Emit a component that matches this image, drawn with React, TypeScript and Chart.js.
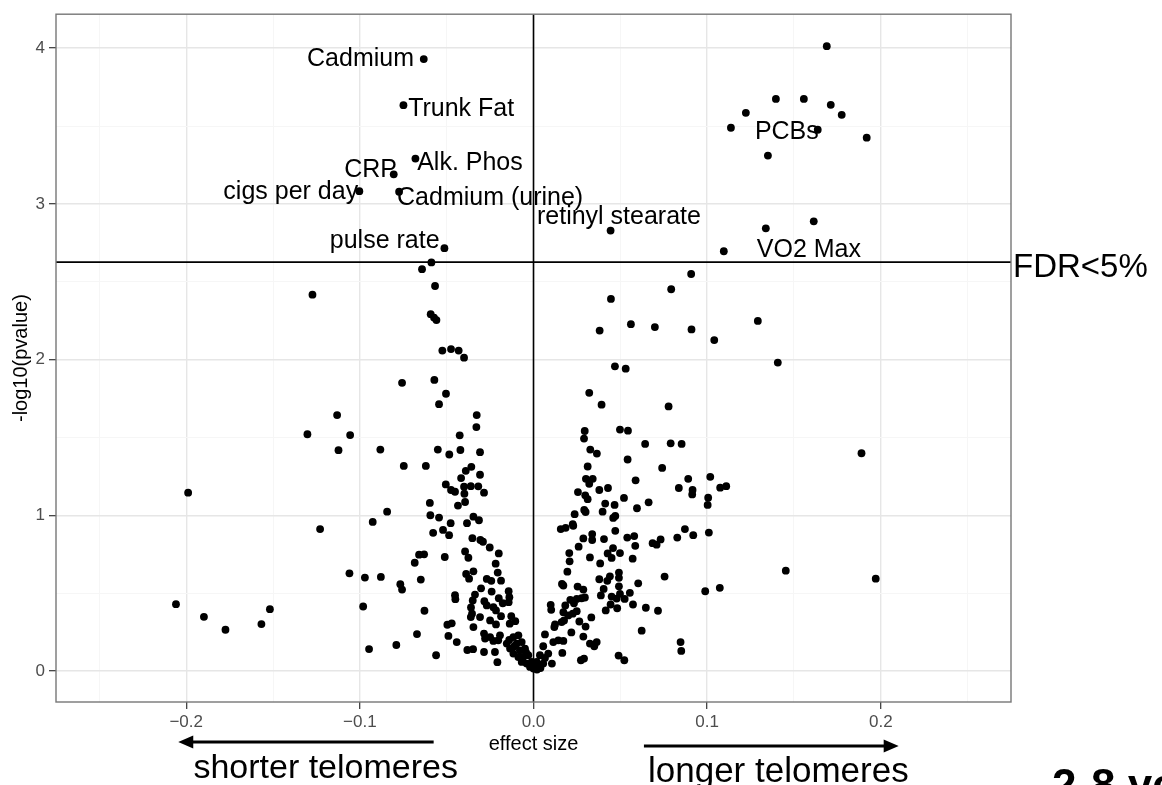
import React, { useEffect, useRef } from "react";
import { Chart, registerables } from "chart.js";

Chart.register(...registerables);

// ---------- data (effect size, -log10 p-value) ----------
// exposures passing FDR < 5%
const sigEffect = [
  -0.0632, -0.0749, -0.068, -0.0805, -0.1003, -0.0774, -0.0513, 0.0444,
  0.1689, 0.1396, 0.1557, 0.1223, 0.1712, 0.1775, 0.1137, 0.1637, 0.1919, 0.135,
  0.1338, 0.1614, 0.1096,
];
const sigNegLogP = [
  3.93, 3.634, 3.291, 3.19, 3.082, 3.078, 2.716, 2.829,
  4.013, 3.674, 3.674, 3.585, 3.636, 3.572, 3.489, 3.476, 3.425, 3.31,
  2.843, 2.888, 2.696,
];

// negative associations (shorter telomeres)
const negEffect = [
  -0.0588, -0.0642, -0.0567, -0.1273, -0.0592, -0.0573, -0.0559, -0.0525, -0.0475, -0.0431,
  -0.04, -0.0757, -0.0571, -0.0504, -0.0544, -0.1131, -0.0327, -0.0329, -0.1302, -0.1056,
  -0.0425, -0.1123, -0.0882, -0.0551, -0.0485, -0.0421, -0.0308, -0.0747, -0.062, -0.0358,
  -0.039, -0.0308, -0.0417, -0.0505, -0.0475, -0.0452, -0.04, -0.0361, -0.0318, -0.0398,
  -0.0285, -0.0597, -0.0394, -0.0435, -0.0843, -0.0926, -0.1229, -0.0594, -0.0544, -0.0477,
  -0.0346, -0.0314, -0.0383, -0.0578, -0.0521, -0.0486, -0.0352, -0.0306, -0.0291, -0.0252,
  -0.02, -0.0394, -0.0375, -0.0659, -0.063, -0.0684, -0.0511, -0.0218, -0.0206, -0.0187,
  -0.0388, -0.0346, -0.0371, -0.106, -0.0971, -0.0879, -0.0767, -0.0757, -0.0649, -0.0269,
  -0.0243, -0.0302, -0.0337, -0.035, -0.0452, -0.045, -0.0241, -0.02, -0.0143, -0.0139,
  -0.0143, -0.0177, -0.0283, -0.0269, -0.0231, -0.0216, -0.0187, -0.036, -0.0354, -0.0361,
  -0.0308, -0.0981, -0.0628, -0.025, -0.0216, -0.0128, -0.0105, -0.0137, -0.0346, -0.0496,
  -0.0471, -0.0671, -0.049, -0.0442, -0.0285, -0.0279, -0.025, -0.0231, -0.0193, -0.0203,
  -0.079, -0.0947, -0.0561, -0.0381, -0.0348, -0.0285, -0.0222, -0.0208,
  -0.0154, -0.0116, -0.0087, -0.0135, -0.0097, -0.0068, -0.0116, -0.0078, -0.0049, -0.0087,
  -0.0059, -0.003, -0.0068, -0.0039, -0.002, 0.0, -0.001, -0.0043, -0.014, -0.011,
  -0.1989, -0.2059, -0.1898, -0.1774, -0.1567, -0.1518,
];
const negNegLogP = [
  2.624, 2.581, 2.473, 2.417, 2.292, 2.27, 2.254, 2.058, 2.068, 2.058,
  2.013, 1.851, 1.87, 1.781, 1.714, 1.644, 1.644, 1.567, 1.521, 1.516,
  1.514, 1.419, 1.423, 1.423, 1.391, 1.42, 1.406, 1.318, 1.318, 1.312,
  1.286, 1.261, 1.24, 1.199, 1.163, 1.152, 1.184, 1.188, 1.187, 1.139,
  1.146, 1.08, 1.086, 1.063, 1.024, 0.958, 0.912, 1.001, 0.986, 0.95,
  0.992, 0.969, 0.95, 0.888, 0.907, 0.873, 0.854, 0.842, 0.831, 0.794,
  0.756, 0.769, 0.728, 0.748, 0.75, 0.696, 0.733, 0.69, 0.633, 0.581,
  0.624, 0.641, 0.594, 0.628, 0.601, 0.605, 0.558, 0.524, 0.588, 0.592,
  0.58, 0.532, 0.492, 0.454, 0.488, 0.462, 0.511, 0.468, 0.513, 0.475,
  0.443, 0.436, 0.449, 0.422, 0.411, 0.39, 0.353, 0.409, 0.369, 0.347,
  0.347, 0.415, 0.388, 0.326, 0.3, 0.353, 0.321, 0.305, 0.283, 0.298,
  0.307, 0.238, 0.226, 0.187, 0.241, 0.209, 0.219, 0.194, 0.23, 0.198,
  0.168, 0.142, 0.102, 0.136, 0.141, 0.123, 0.123, 0.058,
  0.177, 0.219, 0.23, 0.145, 0.177, 0.187, 0.113, 0.134, 0.145, 0.091,
  0.091, 0.102, 0.059, 0.049, 0.027, 0.017, 0.059, 0.12, 0.2, 0.16,
  1.146, 0.43, 0.349, 0.266, 0.302, 0.398,
];

// positive associations (longer telomeres)
const posEffect = [
  0.0908, 0.0793, 0.0446, 0.0381, 0.0561, 0.0699, 0.091, 0.1041, 0.1292, 0.1407,
  0.0469, 0.0531, 0.0321, 0.0392, 0.0778, 0.0295, 0.0291, 0.0498, 0.0544, 0.0327,
  0.0365, 0.0643, 0.079, 0.0853, 0.0542, 0.0312, 0.0741, 0.0302, 0.0341, 0.0588,
  0.0891, 0.1018, 0.0321, 0.0837, 0.0916, 0.0914, 0.1006, 0.1003, 0.1075, 0.111,
  0.0256, 0.0298, 0.0312, 0.0379, 0.0429, 0.0413, 0.0467, 0.0521, 0.0663, 0.0596,
  0.0237, 0.0292, 0.03, 0.0398, 0.0459, 0.0471, 0.0157, 0.0185, 0.0226, 0.0229,
  0.0471, 0.0338, 0.0338, 0.0287, 0.0406, 0.054, 0.058, 0.0586, 0.0686, 0.0709,
  0.0732, 0.0828, 0.0872, 0.092, 0.101, 0.026, 0.0206, 0.0208, 0.0325, 0.0427,
  0.045, 0.0458, 0.0498, 0.0571, 0.0384, 0.0195, 0.1453, 0.0755, 0.0164, 0.0172,
  0.0254, 0.0287, 0.0379, 0.0425, 0.044, 0.0492, 0.0492, 0.0492, 0.0603, 0.0404,
  0.0388, 0.045, 0.0479, 0.0498, 0.0525, 0.0555, 0.0989, 0.1073, 0.0099, 0.0102,
  0.0183, 0.0212, 0.0233, 0.0249, 0.0277, 0.0296, 0.0172, 0.02, 0.0226, 0.0249,
  0.0444, 0.0482, 0.0416, 0.0573, 0.0647, 0.0717, 0.0124, 0.012, 0.0162, 0.0176,
  0.0264, 0.0333, 0.03, 0.0066, 0.0218, 0.0623, 0.0287, 0.0114, 0.0143, 0.0172,
  0.0325, 0.0364, 0.035, 0.0056, 0.0166, 0.0847, 0.0851, 0.0273, 0.0291, 0.049,
  0.0523, 0.0106, 0.0037, 0.0066, 0.0085, 0.0018, 0.0, 0.0028, 0.0056, 0.002,
  0.004, 0.1889, 0.1971,
];
const posNegLogP = [
  2.55, 2.452, 2.39, 2.187, 2.228, 2.209, 2.194, 2.126, 2.249, 1.981,
  1.957, 1.942, 1.787, 1.711, 1.7, 1.542, 1.493, 1.551, 1.544, 1.423,
  1.397, 1.459, 1.463, 1.459, 1.359, 1.314, 1.305, 1.235, 1.235, 1.225,
  1.235, 1.248, 1.203, 1.176, 1.163, 1.135, 1.114, 1.067, 1.178, 1.188,
  1.15, 1.129, 1.104, 1.163, 1.176, 1.076, 1.067, 1.112, 1.084, 1.046,
  1.008, 1.035, 1.022, 1.024, 0.984, 0.997, 0.912, 0.92, 0.944, 0.933,
  0.901, 0.88, 0.842, 0.852, 0.848, 0.858, 0.867, 0.805, 0.822, 0.812,
  0.846, 0.858, 0.912, 0.873, 0.89, 0.799, 0.758, 0.705, 0.73, 0.756,
  0.727, 0.79, 0.758, 0.722, 0.692, 0.639, 0.645, 0.607, 0.56, 0.55,
  0.543, 0.524, 0.59, 0.58, 0.609, 0.633, 0.599, 0.545, 0.564, 0.528,
  0.486, 0.479, 0.466, 0.496, 0.464, 0.503, 0.513, 0.535, 0.426, 0.394,
  0.422, 0.458, 0.436, 0.464, 0.468, 0.473, 0.379, 0.358, 0.369, 0.385,
  0.428, 0.404, 0.39, 0.428, 0.407, 0.388, 0.3, 0.283, 0.315, 0.326,
  0.319, 0.345, 0.286, 0.236, 0.249, 0.26, 0.222, 0.187, 0.198, 0.194,
  0.177, 0.187, 0.16, 0.16, 0.117, 0.187, 0.13, 0.07, 0.081, 0.1,
  0.07, 0.049, 0.102, 0.085, 0.113, 0.059, 0.027, 0.038, 0.049, 0.01,
  0.02, 1.399, 0.594,
];

// labelled exposures: text, anchor (effect size, -log10 p), alignment
const labelText = [
  "Cadmium", "Trunk Fat", "Alk. Phos", "CRP", "cigs per day",
  "Cadmium (urine)", "retinyl stearate", "pulse rate", "PCBs", "VO2 Max",
];
const labelX = [-0.0688, -0.0722, -0.067, -0.0786, -0.101, -0.0786, 0.002, -0.0541, 0.1275, 0.1286];
const labelY = [3.942, 3.62, 3.278, 3.231, 3.086, 3.051, 2.93, 2.776, 3.473, 2.717];
const labelAlign = ["right", "left", "left", "right", "right", "left", "left", "right", "left", "left"];

const fdrThreshold = 2.626;
const xTicks = [-0.25, -0.2, -0.15, -0.1, -0.05, 0, 0.05, 0.1, 0.15, 0.2, 0.25];
const yTicks = [0, 0.5, 1, 1.5, 2, 2.5, 3, 3.5, 4];
const xRange = [-0.275, 0.275];
const yRange = [-0.198, 4.218];

const FONT = '"Liberation Sans", Arial, Helvetica, sans-serif';

const isMajorX = (v: number) => Math.abs(v * 10 - Math.round(v * 10)) < 1e-6;
const isMajorY = (v: number) => Math.abs(v - Math.round(v)) < 1e-6;

const annotationPlugin = {
  id: "volcanoAnnotations",
  beforeDatasetsDraw(chart: any) {
    const { ctx, chartArea, scales } = chart;
    const x0 = scales.x.getPixelForValue(0);
    const yT = scales.y.getPixelForValue(fdrThreshold);
    ctx.save();
    ctx.strokeStyle = "#000";
    ctx.lineWidth = 1.6;
    ctx.beginPath();
    ctx.moveTo(x0, chartArea.top);
    ctx.lineTo(x0, chartArea.bottom);
    ctx.moveTo(chartArea.left, yT);
    ctx.lineTo(chartArea.right, yT);
    ctx.stroke();
    ctx.restore();
  },
  afterDraw(chart: any) {
    const { ctx, chartArea, scales } = chart;
    const xs = scales.x;
    const ys = scales.y;
    ctx.save();
    // panel border
    ctx.strokeStyle = "#777777";
    ctx.lineWidth = 1.4;
    ctx.strokeRect(chartArea.left, chartArea.top, chartArea.right - chartArea.left, chartArea.bottom - chartArea.top);

    // point labels
    ctx.fillStyle = "#000";
    ctx.font = `25px ${FONT}`;
    ctx.textBaseline = "alphabetic";
    for (let i = 0; i < labelText.length; i++) {
      ctx.textAlign = labelAlign[i] as CanvasTextAlign;
      ctx.fillText(labelText[i], xs.getPixelForValue(labelX[i]), ys.getPixelForValue(labelY[i]) + 0.358 * 25);
    }

    // FDR label
    const yT = ys.getPixelForValue(fdrThreshold);
    ctx.textAlign = "left";
    ctx.font = `33px ${FONT}`;
    ctx.fillText("FDR<5%", chartArea.right + 2, yT + 15);

    // axis titles
    ctx.font = `20px ${FONT}`;
    ctx.textAlign = "center";
    ctx.fillText("effect size", (chartArea.left + chartArea.right) / 2, chartArea.bottom + 48);
    ctx.save();
    ctx.translate(27, (chartArea.top + chartArea.bottom) / 2);
    ctx.rotate(-Math.PI / 2);
    ctx.fillText("-log10(pvalue)", 0, 0);
    ctx.restore();

    // direction arrows
    const drawArrow = (fromV: number, toV: number, y: number) => {
      const x1 = xs.getPixelForValue(fromV);
      const x2 = xs.getPixelForValue(toV);
      const dir = Math.sign(x2 - x1);
      ctx.strokeStyle = "#000";
      ctx.lineWidth = 3;
      ctx.beginPath();
      ctx.moveTo(x1, y);
      ctx.lineTo(x2 - dir * 12, y);
      ctx.stroke();
      ctx.beginPath();
      ctx.moveTo(x2, y);
      ctx.lineTo(x2 - dir * 15, y - 6.5);
      ctx.lineTo(x2 - dir * 15, y + 6.5);
      ctx.closePath();
      ctx.fill();
    };
    drawArrow(-0.0575, -0.2046, chartArea.bottom + 40);
    drawArrow(0.0636, 0.2103, chartArea.bottom + 44);

    ctx.font = `34px ${FONT}`;
    ctx.textAlign = "center";
    ctx.fillText("shorter telomeres", xs.getPixelForValue(-0.1197), chartArea.bottom + 76);
    ctx.font = `35px ${FONT}`;
    ctx.fillText("longer telomeres", xs.getPixelForValue(0.141), chartArea.bottom + 80);

    ctx.font = `bold 44px ${FONT}`;
    ctx.textAlign = "left";
    ctx.fillText("2-8 years", chartArea.right + 41, chartArea.bottom + 98);
    ctx.restore();
  },
};

export default function App() {
  const canvasRef = useRef<HTMLCanvasElement | null>(null);

  useEffect(() => {
    const canvas = canvasRef.current;
    if (!canvas) return;
    const allX = [...sigEffect, ...negEffect, ...posEffect];
    const allY = [...sigNegLogP, ...negNegLogP, ...posNegLogP];
    const points = allX.map((x, i) => ({ x, y: allY[i] }));

    const chart = new Chart(canvas, {
      type: "scatter",
      data: {
        datasets: [
          {
            data: points,
            backgroundColor: "#000",
            borderWidth: 0,
            pointRadius: 3.9,
            pointHoverRadius: 3.9,
          },
        ],
      },
      options: {
        responsive: false,
        animation: false,
        devicePixelRatio: 1,
        layout: { padding: { top: 11, right: 151, bottom: 0, left: 0 } },
        plugins: { legend: { display: false }, tooltip: { enabled: false }, title: { display: false } },
        scales: {
          x: {
            type: "linear",
            min: xRange[0],
            max: xRange[1],
            afterBuildTicks: (scale: any) => {
              scale.ticks = xTicks.map((v) => ({ value: v }));
            },
            afterFit: (scale: any) => {
              scale.height = 83;
            },
            border: { display: false },
            grid: {
              color: (c: any) => (isMajorX(c.tick.value) ? "#E6E6E6" : "#F6F6F6"),
              lineWidth: (c: any) => (isMajorX(c.tick.value) ? 1.4 : 1),
              tickColor: (c: any) => (isMajorX(c.tick.value) ? "#333333" : "rgba(0,0,0,0)"),
              tickLength: 7,
              tickWidth: 1.2,
            },
            ticks: {
              autoSkip: false,
              maxRotation: 0,
              padding: 3,
              color: "#4D4D4D",
              font: { family: FONT, size: 17 },
              callback: (v: any) => {
                const n = Number(v);
                if (!isMajorX(n)) return "";
                const s = Math.abs(n).toFixed(1);
                return n < -1e-9 ? "\u2212" + s : s;
              },
            },
          },
          y: {
            type: "linear",
            min: yRange[0],
            max: yRange[1],
            afterBuildTicks: (scale: any) => {
              scale.ticks = yTicks.map((v) => ({ value: v }));
            },
            afterFit: (scale: any) => {
              scale.width = 56;
            },
            border: { display: false },
            grid: {
              color: (c: any) => (isMajorY(c.tick.value) ? "#E6E6E6" : "#F6F6F6"),
              lineWidth: (c: any) => (isMajorY(c.tick.value) ? 1.4 : 1),
              tickColor: (c: any) => (isMajorY(c.tick.value) ? "#333333" : "rgba(0,0,0,0)"),
              tickLength: 7,
              tickWidth: 1.2,
            },
            ticks: {
              autoSkip: false,
              padding: 4,
              color: "#4D4D4D",
              font: { family: FONT, size: 17 },
              callback: (v: any) => {
                const n = Number(v);
                return isMajorY(n) ? String(Math.round(n)) : "";
              },
            },
          },
        },
      },
      plugins: [annotationPlugin],
    });
    return () => chart.destroy();
  }, []);

  return (
    <div style={{ position: "absolute", left: 0, top: 0, width: 1162, height: 785, overflow: "hidden", background: "#fff" }}>
      <canvas ref={canvasRef} width={1162} height={785} style={{ display: "block" }} />
    </div>
  );
}
